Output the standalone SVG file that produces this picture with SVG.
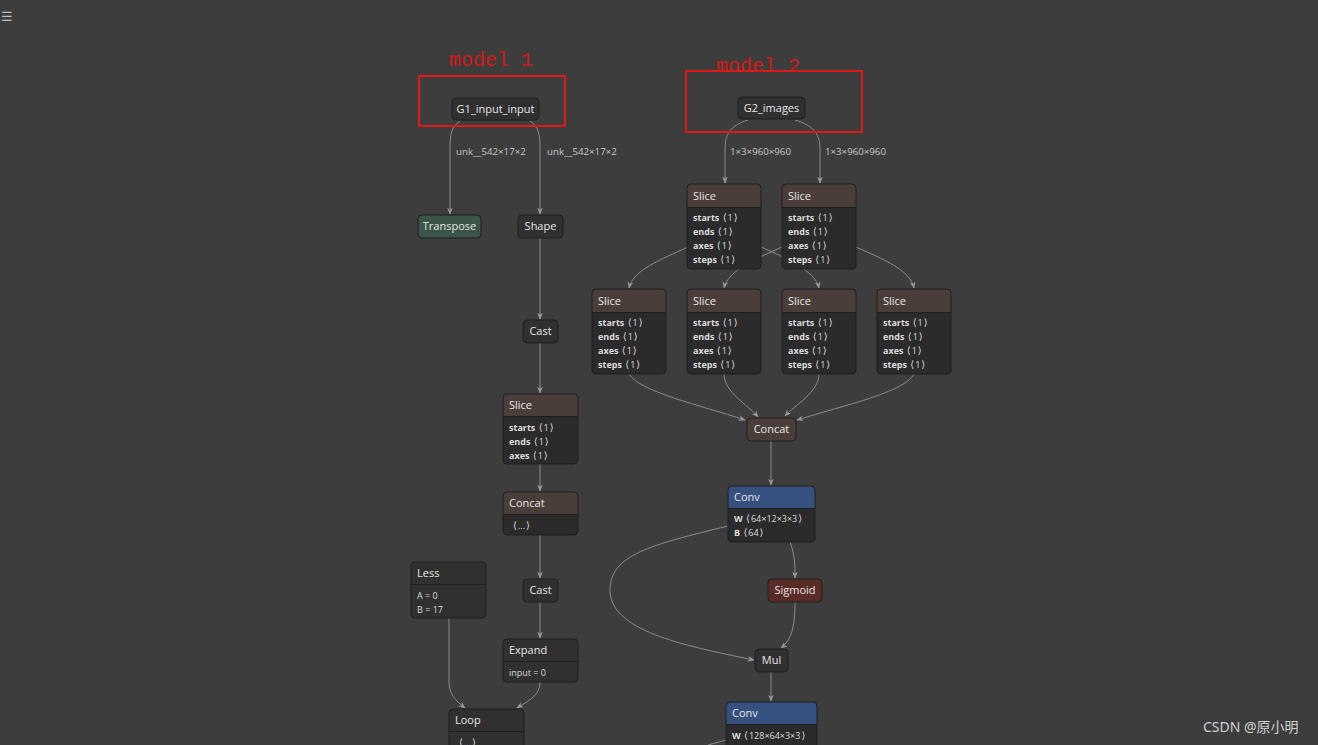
<svg xmlns="http://www.w3.org/2000/svg" width="1318" height="745" viewBox="0 0 1318 745">
<defs>
<marker id="ah" viewBox="0 0 10 10" refX="9" refY="5" markerWidth="7" markerHeight="7" markerUnits="userSpaceOnUse" orient="auto">
<path d="M0,1 L10,5 L0,9 L3,5 Z" fill="#9a9a9a"/>
</marker>
<style>
.n{fill:#303030;stroke:#1e1e1e;stroke-width:1}
.sep{stroke:#1e1e1e;stroke-width:1}
.hs{fill:#4b3e3a}
.hc{fill:#365180}
.t{font-family:"Segoe UI","Open Sans","Noto Sans",sans-serif;font-size:11px;fill:#e6e6e6}
.a{font-family:"Segoe UI","Open Sans","Noto Sans",sans-serif;font-size:9px;fill:#dcdcdc}
.ab{font-weight:bold}
.br{font-family:"DejaVu Sans",sans-serif;font-size:10px}
.el{font-family:"Segoe UI","Open Sans","Noto Sans",sans-serif;font-size:9.7px;fill:#c8c8c8}
.e{fill:none;stroke:#8c8c8c;stroke-width:1;marker-end:url(#ah)}
.red{fill:none;stroke:#e01818;stroke-width:2}
.rl{font-family:"Liberation Mono","DejaVu Sans Mono",monospace;font-size:20px;fill:#d81818}
</style>
</defs>
<rect width="1318" height="745" fill="#3d3d3d"/>
<text x="1" y="21" font-family="DejaVu Sans,sans-serif" font-size="13" fill="#bdbdbd">☰</text>

<g id="connectors">
<path class="e" d="M460 121 C451 127 450 135 450 150 L450 214"/>
<path class="e" d="M530 121 C539 127 540 135 540 150 L540 214"/>
<path class="e" d="M540 238 L540 319"/>
<path class="e" d="M540 343 L540 393"/>
<path class="e" d="M540 464 L540 491"/>
<path class="e" d="M540 535 L540 578"/>
<path class="e" d="M540 602 L540 638"/>
<path class="e" d="M449 618 L449 680 C449 695 455 700 465 708"/>
<path class="e" d="M540 682 C540 695 530 700 517 708"/>
<path class="e" d="M748 120 C729 126 725 135 725 150 L725 183"/>
<path class="e" d="M795 120 C815 126 820 135 820 150 L820 183"/>
<path class="e" d="M688 247 C660 260 633 270 629 288"/>
<path class="e" d="M761 247 C785 258 815 270 819 288"/>
<path class="e" d="M782 247 C758 258 728 270 724 288"/>
<path class="e" d="M856 247 C885 260 910 270 914 288"/>
<path class="e" d="M629 374 C640 392 700 405 745 420"/>
<path class="e" d="M724 374 C724 392 748 405 758 417"/>
<path class="e" d="M819 374 C819 392 795 405 785 416"/>
<path class="e" d="M914 374 C905 392 845 405 797 420"/>
<path class="e" d="M771 441 L771 485"/>
<path class="e" d="M790 542 C795 555 795 565 795 578"/>
<path class="e" d="M728 526 C650 545 610 555 610 590 C610 630 680 645 754 660"/>
<path class="e" d="M795 602 C795 628 791 640 781 648"/>
<path class="e" d="M771 672 L771 701"/>
<path fill="none" stroke="#8c8c8c" d="M726 740 L708 745"/>
</g>

<g id="labels">
<text class="el" x="456" y="155">unk__542×17×2</text>
<text class="el" x="547" y="155">unk__542×17×2</text>
<text class="el" x="730" y="155">1×3×960×960</text>
<text class="el" x="825" y="155">1×3×960×960</text>
</g>

<g id="G1_input_input">
<rect class="n" x="452" y="98" width="87" height="22" rx="4"/>
<text class="t" x="495.5" y="113" text-anchor="middle">G1_input_input</text>
</g>
<g id="Transpose">
<rect class="n" x="418" y="215" width="63" height="23" rx="4" style="fill:#3b5447"/>
<text class="t" x="449.5" y="230" text-anchor="middle">Transpose</text>
</g>
<g id="Shape">
<rect class="n" x="518" y="215" width="45" height="23" rx="4"/>
<text class="t" x="540.5" y="230" text-anchor="middle">Shape</text>
</g>
<g id="Cast1">
<rect class="n" x="523" y="320" width="35" height="23" rx="4"/>
<text class="t" x="540.5" y="335" text-anchor="middle">Cast</text>
</g>
<g id="SliceL">
<rect x="503" y="394" width="75" height="70" rx="4" fill="#2b2b2b"/>
<path class="hs" d="M507 394 H574 A4 4 0 0 1 578 398 V416 H503 V398 A4 4 0 0 1 507 394 Z"/>
<line class="sep" x1="503" y1="416.5" x2="578" y2="416.5"/>
<rect x="503" y="394" width="75" height="70" rx="4" fill="none" stroke="#1e1e1e"/>
<text class="t" x="509" y="409">Slice</text>
<text class="a" x="509" y="431"><tspan class="ab">starts</tspan> <tspan class="br" dx="1">⟨</tspan><tspan dx="1">1</tspan><tspan class="br" dx="1">⟩</tspan></text>
<text class="a" x="509" y="445"><tspan class="ab">ends</tspan> <tspan class="br" dx="1">⟨</tspan><tspan dx="1">1</tspan><tspan class="br" dx="1">⟩</tspan></text>
<text class="a" x="509" y="459"><tspan class="ab">axes</tspan> <tspan class="br" dx="1">⟨</tspan><tspan dx="1">1</tspan><tspan class="br" dx="1">⟩</tspan></text>
</g>
<g id="ConcatL">
<rect x="503" y="492" width="75" height="43" rx="4" fill="#2b2b2b"/>
<path class="hs" d="M507 492 H574 A4 4 0 0 1 578 496 V514 H503 V496 A4 4 0 0 1 507 492 Z"/>
<line class="sep" x1="503" y1="514.5" x2="578" y2="514.5"/>
<rect x="503" y="492" width="75" height="43" rx="4" fill="none" stroke="#1e1e1e"/>
<text class="t" x="509" y="507">Concat</text>
<text class="a" x="513" y="529"><tspan class="br">⟨</tspan><tspan dx="1">...</tspan><tspan class="br" dx="1">⟩</tspan></text>
</g>
<g id="Cast2">
<rect class="n" x="523" y="579" width="35" height="23" rx="4"/>
<text class="t" x="540.5" y="594" text-anchor="middle">Cast</text>
</g>
<g id="Expand">
<rect class="n" x="503" y="639" width="75" height="43" rx="4"/>
<line class="sep" x1="503" y1="661.5" x2="578" y2="661.5"/>
<text class="t" x="509" y="654">Expand</text>
<text class="a" x="509" y="676">input = 0</text>
</g>
<g id="Less">
<rect class="n" x="411" y="562" width="75" height="56" rx="4"/>
<line class="sep" x1="411" y1="584.5" x2="486" y2="584.5"/>
<text class="t" x="417" y="577">Less</text>
<text class="a" x="417" y="599">A = 0</text>
<text class="a" x="417" y="613">B = 17</text>
</g>
<g id="Loop">
<rect class="n" x="449" y="709" width="75" height="50" rx="4"/>
<line class="sep" x1="449" y1="731.5" x2="524" y2="731.5"/>
<text class="t" x="455" y="724">Loop</text>
<text class="a" x="459" y="746"><tspan class="br">⟨</tspan><tspan dx="1">...</tspan><tspan class="br" dx="1">⟩</tspan></text>
</g>

<g id="model1_box">
<rect class="red" x="419" y="76" width="146" height="50"/>
<text class="rl" x="449" y="66">model 1</text>
</g>
<g id="model2_box">
<rect class="red" x="686" y="71" width="176" height="61"/>
<text class="rl" x="716" y="72">model 2</text>
</g>

<g id="G2_images">
<rect class="n" x="738" y="97" width="67" height="22" rx="4"/>
<text class="t" x="771.5" y="112" text-anchor="middle">G2_images</text>
</g>

<g id="SliceT1">
<rect x="687" y="184" width="74" height="85" rx="4" fill="#2b2b2b"/>
<path class="hs" d="M691 184 H757 A4 4 0 0 1 761 188 V207 H687 V188 A4 4 0 0 1 691 184 Z"/>
<line class="sep" x1="687" y1="207.5" x2="761" y2="207.5"/>
<rect x="687" y="184" width="74" height="85" rx="4" fill="none" stroke="#1e1e1e"/>
<text class="t" x="693" y="200">Slice</text>
<text class="a" x="693" y="221"><tspan class="ab">starts</tspan> <tspan class="br" dx="1">⟨</tspan><tspan dx="1">1</tspan><tspan class="br" dx="1">⟩</tspan></text>
<text class="a" x="693" y="235"><tspan class="ab">ends</tspan> <tspan class="br" dx="1">⟨</tspan><tspan dx="1">1</tspan><tspan class="br" dx="1">⟩</tspan></text>
<text class="a" x="693" y="249"><tspan class="ab">axes</tspan> <tspan class="br" dx="1">⟨</tspan><tspan dx="1">1</tspan><tspan class="br" dx="1">⟩</tspan></text>
<text class="a" x="693" y="263"><tspan class="ab">steps</tspan> <tspan class="br" dx="1">⟨</tspan><tspan dx="1">1</tspan><tspan class="br" dx="1">⟩</tspan></text>
</g>
<g id="SliceT2">
<rect x="782" y="184" width="74" height="85" rx="4" fill="#2b2b2b"/>
<path class="hs" d="M786 184 H852 A4 4 0 0 1 856 188 V207 H782 V188 A4 4 0 0 1 786 184 Z"/>
<line class="sep" x1="782" y1="207.5" x2="856" y2="207.5"/>
<rect x="782" y="184" width="74" height="85" rx="4" fill="none" stroke="#1e1e1e"/>
<text class="t" x="788" y="200">Slice</text>
<text class="a" x="788" y="221"><tspan class="ab">starts</tspan> <tspan class="br" dx="1">⟨</tspan><tspan dx="1">1</tspan><tspan class="br" dx="1">⟩</tspan></text>
<text class="a" x="788" y="235"><tspan class="ab">ends</tspan> <tspan class="br" dx="1">⟨</tspan><tspan dx="1">1</tspan><tspan class="br" dx="1">⟩</tspan></text>
<text class="a" x="788" y="249"><tspan class="ab">axes</tspan> <tspan class="br" dx="1">⟨</tspan><tspan dx="1">1</tspan><tspan class="br" dx="1">⟩</tspan></text>
<text class="a" x="788" y="263"><tspan class="ab">steps</tspan> <tspan class="br" dx="1">⟨</tspan><tspan dx="1">1</tspan><tspan class="br" dx="1">⟩</tspan></text>
</g>

<g id="SliceR1">
<rect x="592" y="289" width="74" height="85" rx="4" fill="#2b2b2b"/>
<path class="hs" d="M596 289 H662 A4 4 0 0 1 666 293 V312 H592 V293 A4 4 0 0 1 596 289 Z"/>
<line class="sep" x1="592" y1="312.5" x2="666" y2="312.5"/>
<rect x="592" y="289" width="74" height="85" rx="4" fill="none" stroke="#1e1e1e"/>
<text class="t" x="598" y="305">Slice</text>
<text class="a" x="598" y="326"><tspan class="ab">starts</tspan> <tspan class="br" dx="1">⟨</tspan><tspan dx="1">1</tspan><tspan class="br" dx="1">⟩</tspan></text>
<text class="a" x="598" y="340"><tspan class="ab">ends</tspan> <tspan class="br" dx="1">⟨</tspan><tspan dx="1">1</tspan><tspan class="br" dx="1">⟩</tspan></text>
<text class="a" x="598" y="354"><tspan class="ab">axes</tspan> <tspan class="br" dx="1">⟨</tspan><tspan dx="1">1</tspan><tspan class="br" dx="1">⟩</tspan></text>
<text class="a" x="598" y="368"><tspan class="ab">steps</tspan> <tspan class="br" dx="1">⟨</tspan><tspan dx="1">1</tspan><tspan class="br" dx="1">⟩</tspan></text>
</g>
<g id="SliceR2">
<rect x="687" y="289" width="74" height="85" rx="4" fill="#2b2b2b"/>
<path class="hs" d="M691 289 H757 A4 4 0 0 1 761 293 V312 H687 V293 A4 4 0 0 1 691 289 Z"/>
<line class="sep" x1="687" y1="312.5" x2="761" y2="312.5"/>
<rect x="687" y="289" width="74" height="85" rx="4" fill="none" stroke="#1e1e1e"/>
<text class="t" x="693" y="305">Slice</text>
<text class="a" x="693" y="326"><tspan class="ab">starts</tspan> <tspan class="br" dx="1">⟨</tspan><tspan dx="1">1</tspan><tspan class="br" dx="1">⟩</tspan></text>
<text class="a" x="693" y="340"><tspan class="ab">ends</tspan> <tspan class="br" dx="1">⟨</tspan><tspan dx="1">1</tspan><tspan class="br" dx="1">⟩</tspan></text>
<text class="a" x="693" y="354"><tspan class="ab">axes</tspan> <tspan class="br" dx="1">⟨</tspan><tspan dx="1">1</tspan><tspan class="br" dx="1">⟩</tspan></text>
<text class="a" x="693" y="368"><tspan class="ab">steps</tspan> <tspan class="br" dx="1">⟨</tspan><tspan dx="1">1</tspan><tspan class="br" dx="1">⟩</tspan></text>
</g>
<g id="SliceR3">
<rect x="782" y="289" width="74" height="85" rx="4" fill="#2b2b2b"/>
<path class="hs" d="M786 289 H852 A4 4 0 0 1 856 293 V312 H782 V293 A4 4 0 0 1 786 289 Z"/>
<line class="sep" x1="782" y1="312.5" x2="856" y2="312.5"/>
<rect x="782" y="289" width="74" height="85" rx="4" fill="none" stroke="#1e1e1e"/>
<text class="t" x="788" y="305">Slice</text>
<text class="a" x="788" y="326"><tspan class="ab">starts</tspan> <tspan class="br" dx="1">⟨</tspan><tspan dx="1">1</tspan><tspan class="br" dx="1">⟩</tspan></text>
<text class="a" x="788" y="340"><tspan class="ab">ends</tspan> <tspan class="br" dx="1">⟨</tspan><tspan dx="1">1</tspan><tspan class="br" dx="1">⟩</tspan></text>
<text class="a" x="788" y="354"><tspan class="ab">axes</tspan> <tspan class="br" dx="1">⟨</tspan><tspan dx="1">1</tspan><tspan class="br" dx="1">⟩</tspan></text>
<text class="a" x="788" y="368"><tspan class="ab">steps</tspan> <tspan class="br" dx="1">⟨</tspan><tspan dx="1">1</tspan><tspan class="br" dx="1">⟩</tspan></text>
</g>
<g id="SliceR4">
<rect x="877" y="289" width="74" height="85" rx="4" fill="#2b2b2b"/>
<path class="hs" d="M881 289 H947 A4 4 0 0 1 951 293 V312 H877 V293 A4 4 0 0 1 881 289 Z"/>
<line class="sep" x1="877" y1="312.5" x2="951" y2="312.5"/>
<rect x="877" y="289" width="74" height="85" rx="4" fill="none" stroke="#1e1e1e"/>
<text class="t" x="883" y="305">Slice</text>
<text class="a" x="883" y="326"><tspan class="ab">starts</tspan> <tspan class="br" dx="1">⟨</tspan><tspan dx="1">1</tspan><tspan class="br" dx="1">⟩</tspan></text>
<text class="a" x="883" y="340"><tspan class="ab">ends</tspan> <tspan class="br" dx="1">⟨</tspan><tspan dx="1">1</tspan><tspan class="br" dx="1">⟩</tspan></text>
<text class="a" x="883" y="354"><tspan class="ab">axes</tspan> <tspan class="br" dx="1">⟨</tspan><tspan dx="1">1</tspan><tspan class="br" dx="1">⟩</tspan></text>
<text class="a" x="883" y="368"><tspan class="ab">steps</tspan> <tspan class="br" dx="1">⟨</tspan><tspan dx="1">1</tspan><tspan class="br" dx="1">⟩</tspan></text>
</g>

<g id="ConcatR">
<rect class="n" x="747" y="418" width="49" height="23" rx="4" style="fill:#4b3e3a"/>
<text class="t" x="771.5" y="433" text-anchor="middle">Concat</text>
</g>
<g id="Conv1">
<rect x="728" y="486" width="87" height="56" rx="4" fill="#2b2b2b"/>
<path class="hc" d="M732 486 H811 A4 4 0 0 1 815 490 V508 H728 V490 A4 4 0 0 1 732 486 Z"/>
<line class="sep" x1="728" y1="508.5" x2="815" y2="508.5"/>
<rect x="728" y="486" width="87" height="56" rx="4" fill="none" stroke="#1e1e1e"/>
<text class="t" x="734" y="501">Conv</text>
<text class="a" x="734" y="522"><tspan class="ab">W</tspan> <tspan class="br" dx="1">⟨</tspan><tspan dx="1">64×12×3×3</tspan><tspan class="br" dx="1">⟩</tspan></text>
<text class="a" x="734" y="536"><tspan class="ab">B</tspan> <tspan class="br" dx="1">⟨</tspan><tspan dx="1">64</tspan><tspan class="br" dx="1">⟩</tspan></text>
</g>
<g id="Sigmoid">
<rect class="n" x="768" y="579" width="54" height="23" rx="4" style="fill:#5a2c28"/>
<text class="t" x="795" y="594" text-anchor="middle">Sigmoid</text>
</g>
<g id="Mul">
<rect class="n" x="755" y="649" width="33" height="23" rx="4"/>
<text class="t" x="771.5" y="664" text-anchor="middle">Mul</text>
</g>
<g id="Conv2">
<rect x="726" y="702" width="91" height="56" rx="4" fill="#2b2b2b"/>
<path class="hc" d="M730 702 H813 A4 4 0 0 1 817 706 V724 H726 V706 A4 4 0 0 1 730 702 Z"/>
<line class="sep" x1="726" y1="724.5" x2="817" y2="724.5"/>
<rect x="726" y="702" width="91" height="56" rx="4" fill="none" stroke="#1e1e1e"/>
<text class="t" x="732" y="717">Conv</text>
<text class="a" x="732" y="739"><tspan class="ab">W</tspan> <tspan class="br" dx="1">⟨</tspan><tspan dx="1">128×64×3×3</tspan><tspan class="br" dx="1">⟩</tspan></text>
</g>

<text x="1203" y="732" font-family="'Noto Sans','Noto Sans CJK SC',sans-serif" font-size="14" fill="#cfcfcf">CSDN @原小明</text>
</svg>
